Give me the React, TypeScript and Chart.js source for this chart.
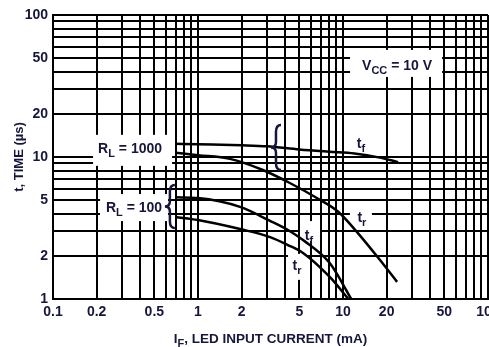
import React, { useEffect, useRef } from "react";
import { Chart, registerables } from "chart.js";

Chart.register(...registerables);

// ---- grid / tick definitions ----
const X_GRID = [0.1, 0.2, 0.3, 0.4, 0.5, 0.6, 0.7, 0.8, 0.9, 1, 2, 3, 4, 5, 6, 7, 8, 9, 10, 20, 30, 40, 50, 60, 70, 80, 90, 100];
const Y_GRID = [1, 2, 3, 4, 5, 6, 7, 8, 9, 10, 20, 30, 40, 50, 60, 70, 80, 90, 100];
const X_LABELED = [0.1, 0.2, 0.5, 1, 2, 5, 10, 20, 50, 100];
const X_LABELS = ["0.1", "0.2", "0.5", "1", "2", "5", "10", "20", "50", "100"];
const Y_LABELED = [1, 2, 5, 10, 20, 50, 100];
const Y_LABELS = ["1", "2", "5", "10", "20", "50", "100"];

// ---- series (IF in mA, t in µs) ----
const RL1000_TF_X = [0.7, 1, 2, 3, 5, 8, 12, 18, 24];
const RL1000_TF_Y = [12.4, 12.3, 12.1, 11.9, 11.3, 10.9, 10.6, 9.9, 9.2];
const RL1000_TR_X = [0.7, 1, 1.66, 2.8, 4.3, 6.6, 9.3, 12.5, 18, 23.6];
const RL1000_TR_Y = [10.7, 10.3, 9.7, 8.1, 6.56, 5.14, 4.1, 2.96, 1.88, 1.32];
const RL100_TF_X = [0.7, 1, 1.95, 3.14, 4.17, 5.3, 8.1, 11.4];
const RL100_TF_Y = [5.2, 5.14, 4.45, 3.55, 3.06, 2.6, 1.79, 1.0];
const RL100_TR_X = [0.7, 1, 1.95, 3.14, 4.17, 5.3, 8.1, 10.9];
const RL100_TR_Y = [3.78, 3.6, 3.11, 2.73, 2.4, 2.11, 1.43, 1.0];

const X_TITLE = [{ t: "I" }, { t: "F", sub: true }, { t: ", LED INPUT CURRENT (mA)" }];
const Y_TITLE = "t, TIME (µs)";

const FONT = '"Liberation Sans", Arial, sans-serif';
const TEXT = "#16163c";

type Part = { t: string; sub?: boolean };

const NOTES: { parts: Part[]; x: number; y: number; box: number[] }[] = [
  { parts: [{ t: "V" }, { t: "CC", sub: true }, { t: " = 10 V" }], x: 23.6, y: 44.5, box: [-47, -15, 45, 12] },
  { parts: [{ t: "R" }, { t: "L", sub: true }, { t: " = 1000" }], x: 0.34, y: 11.6, box: [-37, -13, 42, 18] },
  { parts: [{ t: "R" }, { t: "L", sub: true }, { t: " = 100" }], x: 0.362, y: 4.44, box: [-34, -13, 34, 14] },
  { parts: [{ t: "t" }, { t: "f", sub: true }], x: 13.3, y: 12.55, box: [-8, -8, 8, 6] },
  { parts: [{ t: "t" }, { t: "r", sub: true }], x: 13.5, y: 3.78, box: [-12, -12, 10, 11] },
  { parts: [{ t: "t" }, { t: "f", sub: true }], x: 5.83, y: 2.82, box: [-9, -14, 11, 6] },
  { parts: [{ t: "t" }, { t: "r", sub: true }], x: 4.82, y: 1.74, box: [-9, -11, 9, 15] },
];

const BRACES = [
  { x: 3.45, yTop: 16.8, yBot: 8.1 },
  { x: 0.64, yTop: 6.35, yBot: 3.16 },
];

function drawRich(ctx: CanvasRenderingContext2D, parts: Part[], cx: number, cy: number, size: number) {
  const subSize = Math.round(size * 0.78);
  const widths = parts.map((p) => {
    ctx.font = `bold ${p.sub ? subSize : size}px ${FONT}`;
    return ctx.measureText(p.t).width;
  });
  const total = widths.reduce((a, b) => a + b, 0);
  let xx = cx - total / 2;
  const base = cy + size * 0.36;
  ctx.textAlign = "left";
  ctx.textBaseline = "alphabetic";
  parts.forEach((p, i) => {
    ctx.font = `bold ${p.sub ? subSize : size}px ${FONT}`;
    ctx.fillText(p.t, xx, p.sub ? base + size * 0.3 : base);
    xx += widths[i];
  });
}

function drawBrace(ctx: CanvasRenderingContext2D, x: number, yTop: number, yBot: number, w: number) {
  const mid = (yTop + yBot) / 2;
  const h = yBot - yTop;
  ctx.beginPath();
  ctx.moveTo(x + w, yTop);
  ctx.quadraticCurveTo(x, yTop, x, yTop + h * 0.15);
  ctx.lineTo(x, mid - h * 0.12);
  ctx.quadraticCurveTo(x, mid, x - w, mid);
  ctx.quadraticCurveTo(x, mid, x, mid + h * 0.12);
  ctx.lineTo(x, yBot - h * 0.15);
  ctx.quadraticCurveTo(x, yBot, x + w, yBot);
  ctx.stroke();
}

const notesPlugin = {
  id: "notes",
  beforeDatasetsDraw(chart: any) {
    const { ctx, scales } = chart;
    ctx.save();
    ctx.fillStyle = "#ffffff";
    for (const n of NOTES) {
      const cx = scales.x.getPixelForValue(n.x);
      const cy = scales.y.getPixelForValue(n.y);
      ctx.fillRect(cx + n.box[0], cy + n.box[1], n.box[2] - n.box[0], n.box[3] - n.box[1]);
    }
    ctx.restore();
  },
  afterDatasetsDraw(chart: any) {
    const { ctx, scales } = chart;
    ctx.save();
    ctx.strokeStyle = TEXT;
    ctx.lineWidth = 2.5;
    for (const b of BRACES) {
      drawBrace(ctx, scales.x.getPixelForValue(b.x), scales.y.getPixelForValue(b.yTop), scales.y.getPixelForValue(b.yBot), 5);
    }
    ctx.fillStyle = TEXT;
    for (const n of NOTES) {
      drawRich(ctx, n.parts, scales.x.getPixelForValue(n.x), scales.y.getPixelForValue(n.y), 14);
    }
    ctx.restore();
  },
  afterDraw(chart: any) {
    const { ctx, chartArea } = chart;
    ctx.save();
    ctx.fillStyle = TEXT;
    drawRich(ctx, X_TITLE, (chartArea.left + chartArea.right) / 2, chartArea.bottom + 39, 13.5);
    ctx.restore();
  },
};

function labelFor(v: number, vals: number[], labels: string[]) {
  const i = vals.findIndex((t) => Math.abs(t - v) < 1e-9 * Math.max(1, v));
  return i >= 0 ? labels[i] : "";
}

const pts = (xs: number[], ys: number[]) => xs.map((x, i) => ({ x, y: ys[i] }));

export default function App() {
  const ref = useRef<HTMLCanvasElement>(null);
  useEffect(() => {
    const canvas = ref.current;
    if (!canvas) return;
    const line = (label: string, data: { x: number; y: number }[]) => ({
      label,
      data,
      borderColor: "#000",
      borderWidth: 2.5,
      pointRadius: 0,
      fill: false,
      cubicInterpolationMode: "monotone" as const,
    });
    const tickFont = { family: FONT, size: 14, weight: "bold" as const };
    const chart = new Chart(canvas, {
      type: "line",
      data: {
        datasets: [
          line("RL=1000 tf", pts(RL1000_TF_X, RL1000_TF_Y)),
          line("RL=1000 tr", pts(RL1000_TR_X, RL1000_TR_Y)),
          line("RL=100 tf", pts(RL100_TF_X, RL100_TF_Y)),
          line("RL=100 tr", pts(RL100_TR_X, RL100_TR_Y)),
        ],
      },
      options: {
        animation: false,
        responsive: false,
        layout: { padding: { top: 15, right: 1, left: 0, bottom: 0 } },
        plugins: { legend: { display: false }, tooltip: { enabled: false } },
        scales: {
          x: {
            type: "logarithmic",
            min: 0.1,
            max: 100,
            afterBuildTicks: (s: any) => {
              s.ticks = X_GRID.map((v) => ({ value: v }));
            },
            afterFit: (s: any) => {
              s.height = 48;
              s.paddingLeft = 0;
              s.paddingRight = 0;
            },
            grid: { color: "#000", lineWidth: 2, drawTicks: false },
            border: { color: "#000", width: 2 },
            ticks: {
              autoSkip: false,
              maxRotation: 0,
              padding: 5,
              color: TEXT,
              font: tickFont,
              callback: (v: any) => labelFor(Number(v), X_LABELED, X_LABELS),
            },
          },
          y: {
            type: "logarithmic",
            min: 1,
            max: 100,
            afterBuildTicks: (s: any) => {
              s.ticks = Y_GRID.map((v) => ({ value: v }));
            },
            afterFit: (s: any) => {
              s.width = 53;
              s.paddingTop = 0;
              s.paddingBottom = 0;
            },
            grid: { color: "#000", lineWidth: 2, drawTicks: false },
            border: { color: "#000", width: 2 },
            title: {
              display: true,
              text: Y_TITLE,
              color: TEXT,
              font: { family: FONT, size: 13, weight: "bold" },
              padding: { top: 12, bottom: 0 },
            },
            ticks: {
              autoSkip: false,
              padding: 5,
              color: TEXT,
              font: tickFont,
              callback: (v: any) => labelFor(Number(v), Y_LABELED, Y_LABELS),
            },
          },
        },
      },
      plugins: [notesPlugin],
    } as any);
    return () => chart.destroy();
  }, []);
  return (
    <div style={{ position: "absolute", left: 0, top: 0, width: 489, height: 347 }}>
      <canvas ref={ref} width={489} height={347} style={{ display: "block" }} />
    </div>
  );
}
